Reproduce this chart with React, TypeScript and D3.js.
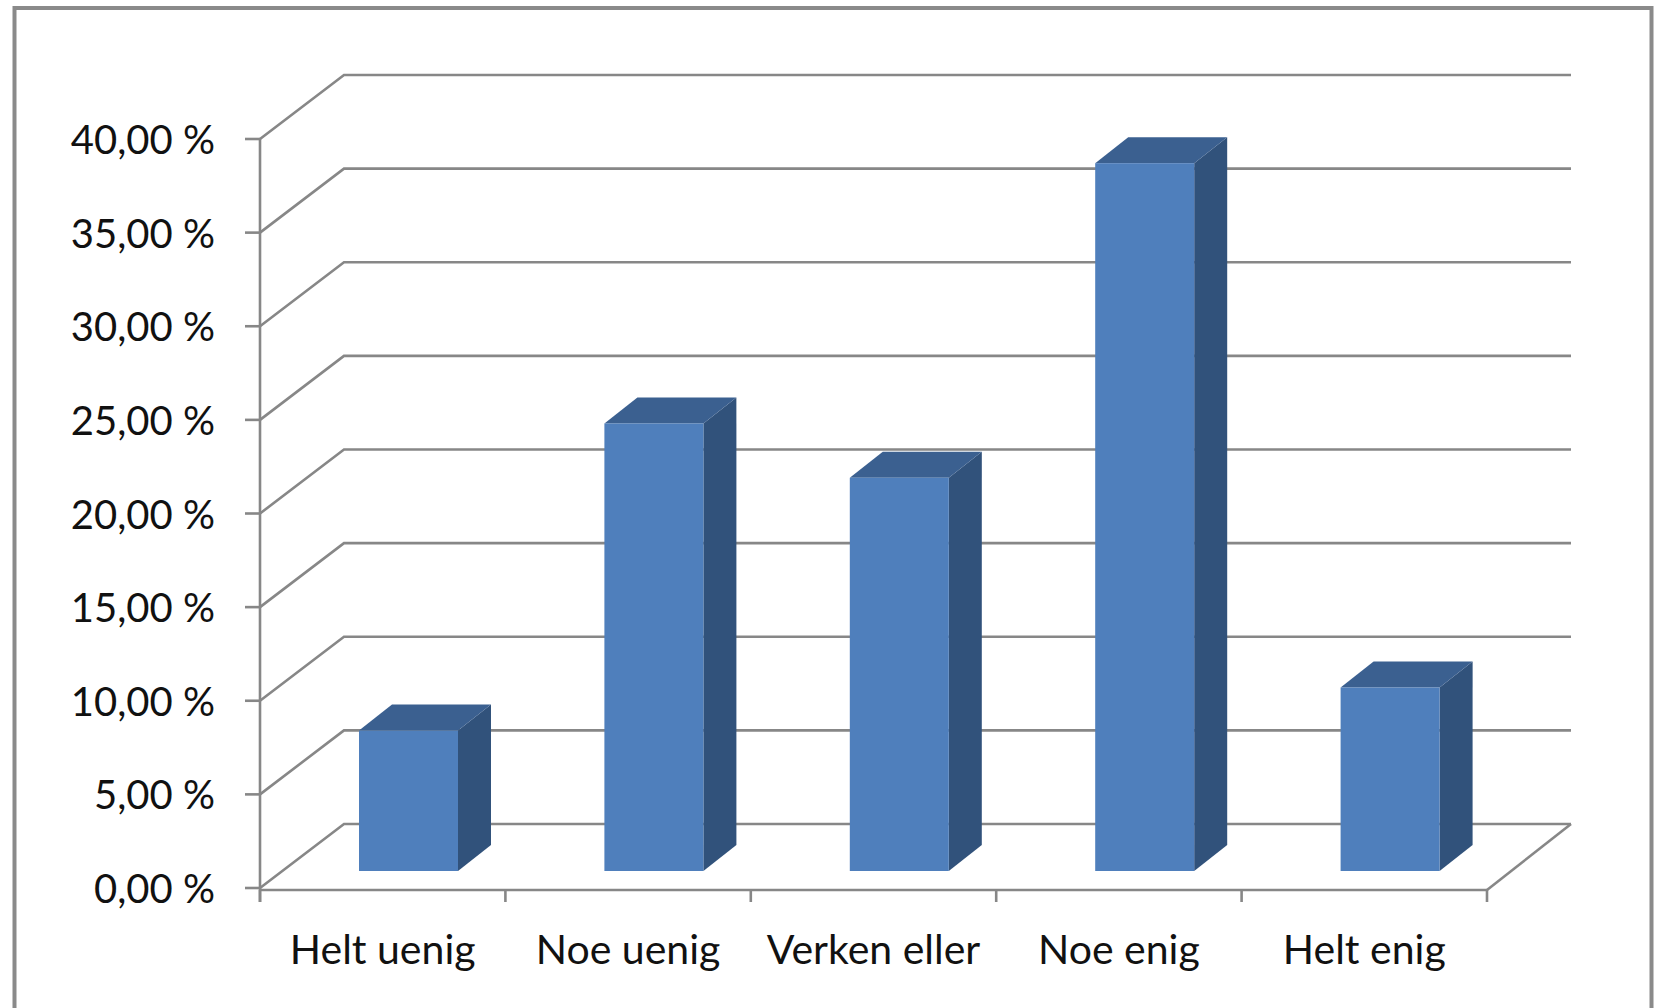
import React from "react";
import * as d3 from "d3";

const categories = ["Helt uenig", "Noe uenig", "Verken eller", "Noe enig", "Helt enig"];
const values = [7.5, 23.9, 21.0, 37.8, 9.8];
const yTicks = [0, 5, 10, 15, 20, 25, 30, 35, 40];

const W = 1656;
const H = 1008;
const axisX0 = 260;
const axisX1 = 1487;
const y0 = 888;
const y40 = 139;
const depthDX = 84;
const depthDY = 64;
const barOffX = 99;
const barW = 99;
const barFrontDY = 17;
const barDX = 33;
const barDY = 26;
const gridColor = "#878787";
const font = "Lato, 'Open Sans', sans-serif";

const fmt = (v: number) => v.toFixed(2).replace(".", ",") + " %";

export default function App() {
  const x = d3.scaleBand<string>().domain(categories).range([axisX0, axisX1]).padding(0);
  const y = d3.scaleLinear().domain([0, 40]).range([y0, y40]);
  const bw = x.bandwidth();

  return (
    <svg
      width={W}
      height={H}
      style={{ position: "absolute", left: 0, top: 0, background: "#fff" }}
      xmlns="http://www.w3.org/2000/svg"
    >
      <rect x={0} y={0} width={W} height={H} fill="#fff" />
      {/* outer border */}
      <rect x={14.5} y={8} width={1637} height={1040} fill="none" stroke="#8a8a8a" strokeWidth={4} />

      {/* gridlines */}
      {yTicks.map((t) => {
        const yy = y(t);
        const d = d3.path();
        d.moveTo(axisX0, yy);
        d.lineTo(axisX0 + depthDX, yy - depthDY);
        d.lineTo(axisX1 + depthDX, yy - depthDY);
        return <path key={t} d={d.toString()} fill="none" stroke={gridColor} strokeWidth={2.6} />;
      })}
      {/* floor right edge */}
      <line x1={axisX1} y1={y(0) + 2} x2={axisX1 + depthDX} y2={y(0) - depthDY} stroke={gridColor} strokeWidth={2.6} />

      {/* y axis */}
      <line x1={axisX0} y1={y(40)} x2={axisX0} y2={y(0) + 14} stroke={gridColor} strokeWidth={2.6} />
      {yTicks.map((t) => (
        <g key={"yt" + t}>
          <line x1={axisX0 - 15} y1={y(t)} x2={axisX0} y2={y(t)} stroke={gridColor} strokeWidth={2.6} />
          <text
            x={215}
            y={y(t)}
            textAnchor="end"
            dominantBaseline="central"
            fontFamily={font}
            fontSize={40}
            fill="#111"
          >
            {fmt(t)}
          </text>
        </g>
      ))}

      {/* x axis */}
      <line x1={axisX0} y1={y(0) + 2} x2={axisX1} y2={y(0) + 2} stroke={gridColor} strokeWidth={2.6} />
      {[...categories.map((c) => x(c) as number), axisX1].map((tx, i) => (
        <line key={"xt" + i} x1={tx} y1={y(0) + 2} x2={tx} y2={y(0) + 14} stroke={gridColor} strokeWidth={2.6} />
      ))}
      {categories.map((c) => (
        <text
          key={"xl" + c}
          x={(x(c) as number) + bw / 2}
          y={948}
          textAnchor="middle"
          dominantBaseline="central"
          fontFamily={font}
          fontSize={41}
          fill="#111"
        >
          {c}
        </text>
      ))}

      {/* bars */}
      {categories.map((c, i) => {
        const xl = (x(c) as number) + barOffX;
        const xr = xl + barW;
        const yb = y(0) - barFrontDY;
        const yt = y(values[i]) - barFrontDY;
        const top = `M${xl},${yt}L${xl + barDX},${yt - barDY}L${xr + barDX},${yt - barDY}L${xr},${yt}Z`;
        const side = `M${xr},${yt}L${xr + barDX},${yt - barDY}L${xr + barDX},${yb - barDY}L${xr},${yb}Z`;
        return (
          <g key={"bar" + c}>
            <path d={side} fill="#31527b" />
            <path d={top} fill="#3b6090" />
            <rect x={xl} y={yt} width={barW} height={yb - yt} fill="#4f7fbc" />
          </g>
        );
      })}
    </svg>
  );
}
